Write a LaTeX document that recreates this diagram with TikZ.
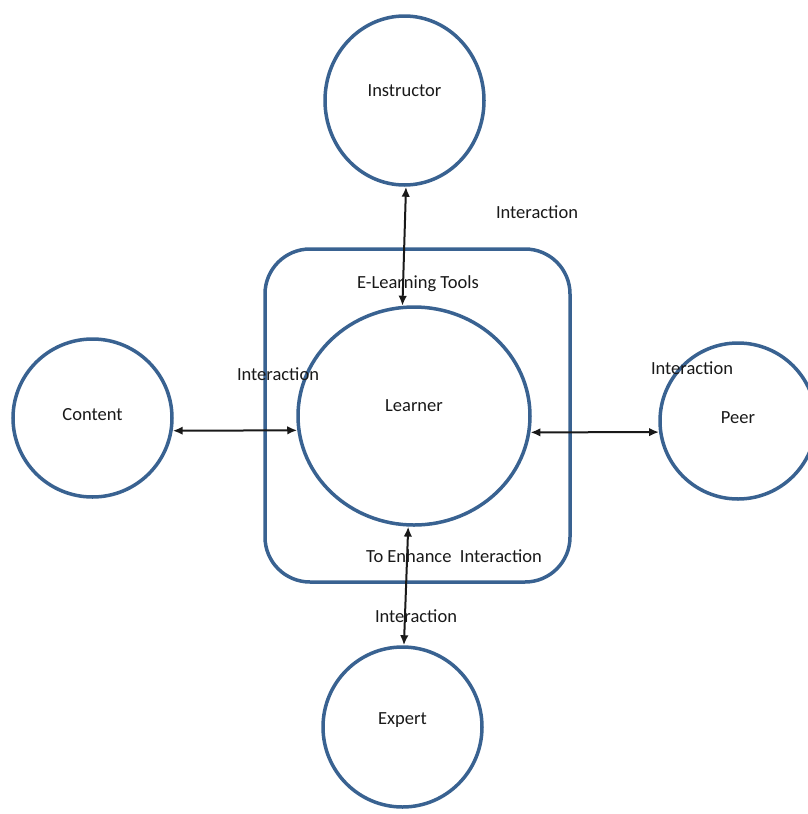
\documentclass[tikz,border=0pt]{standalone}
\usepackage{fontspec}
\setmainfont{Carlito}
\usepackage{xcolor}
\usepackage{tikz}
\usetikzlibrary {positioning}
\usetikzlibrary{arrows,arrows.meta}
\usetikzlibrary{shapes.geometric}
\definecolor{ringblue}{RGB}{57,98,145}
\tikzset{link/.style = {<->,> = {Latex[length=10pt,width=8.5pt]}, line width=2pt, draw=black!90}}

\begin{document}
\begin{tikzpicture}[x=1pt,y=-1pt,auto,font=\fontsize{18.5}{22}\selectfont,text=black!90,
                main node/.style={ellipse,draw=ringblue,line width=3.5pt,inner sep=0pt},
                tools node/.style={rectangle,rounded corners=45pt,draw=ringblue,line width=3.5pt}]
                \useasboundingbox (0,0) rectangle (808,814);
                \node[tools node, minimum width=305pt, minimum height=333pt] (tools) at (417.5,415.5) {};
                \node[main node, minimum width=232pt, minimum height=218pt, label={[yshift=10pt]center:Learner}] (learner) at (414,416) {};
                \node[main node, minimum width=159pt, minimum height=169pt, label={[yshift=10pt]center:Instructor}] (instructor) at (404.5,100.5) {};
                \node[main node, minimum width=159pt, minimum height=158pt, label={[yshift=3pt]center:Content}] (content) at (92.5,418) {};
                \node[main node, minimum width=156pt, minimum height=156pt, label={[yshift=3pt]center:Peer}] (peer) at (738,421) {};
                \node[main node, minimum width=159pt, minimum height=160pt, label={[yshift=7pt]center:Expert}] (expert) at (402.5,727) {};

                \node (tools label) at (418,284) {E-Learning Tools};
                \node (enhance) at (454,556) {To Enhance~ Interaction};
                \node (top label) at (537,212) {Interaction};
                \node (left label) at (278,374) {Interaction};
                \node (right label) at (692,368) {Interaction};
                \node (bottom label) at (416,616) {Interaction};

                \path
                    (instructor.-89) edge[link] (learner.96)
                    (learner.-93.6) edge[link] (expert.89.6)
                    (content.-9.3) edge[link] (learner.187.4)
                    (learner.-8) edge[link] (peer.188)
                    ;
\end{tikzpicture}
\end{document}
